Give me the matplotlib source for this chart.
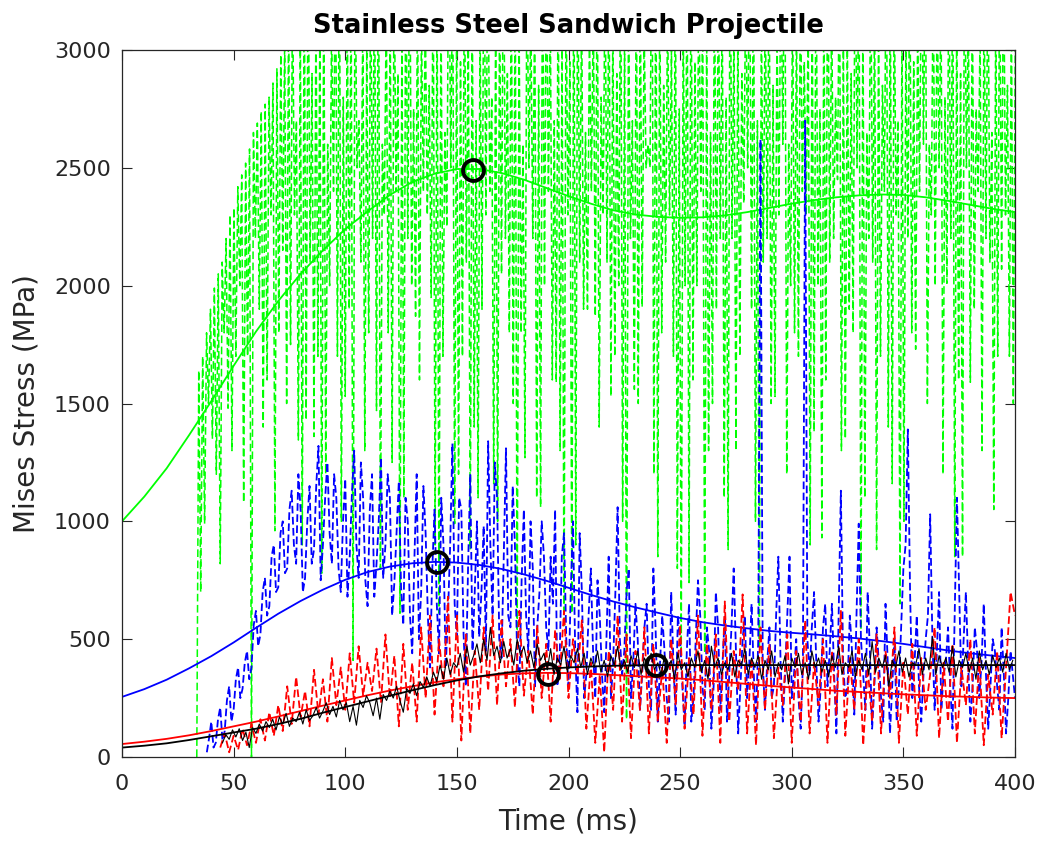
import numpy as np
import matplotlib
matplotlib.use("Agg")
import matplotlib.pyplot as plt

plt.rcParams['font.family'] = ['DejaVu Sans']
plt.rcParams['lines.scale_dashes'] = False

# ---- smooth trend curves, sampled every 10 ms ----
t_fit = np.arange(0, 401, 10)
green_fit = [1000, 1105, 1225, 1365, 1510, 1660, 1805, 1935, 2050, 2150, 2240,
             2315, 2385, 2440, 2475, 2495, 2495, 2478, 2450, 2415, 2380, 2348,
             2320, 2302, 2292, 2288, 2290, 2298, 2312, 2330, 2348, 2363, 2375,
             2383, 2387, 2385, 2375, 2360, 2343, 2326, 2312]
blue_fit = [255, 288, 328, 376, 428, 486, 548, 608, 662, 710, 752, 785, 808,
            822, 828, 825, 815, 798, 775, 748, 718, 688, 660, 635, 612, 590,
            572, 558, 546, 535, 527, 520, 512, 503, 492, 480, 466, 452, 440,
            430, 420]
red_fit = [55, 65, 77, 92, 110, 130, 150, 172, 195, 218, 240, 262, 282, 300,
           317, 330, 341, 350, 355, 357, 356, 353, 348, 343, 338, 333, 326,
           318, 310, 302, 295, 288, 281, 276, 271, 266, 262, 258, 255, 252, 250]
black_fit = [40, 48, 58, 72, 88, 104, 120, 140, 162, 188, 212, 236, 260, 283,
             305, 325, 342, 355, 366, 374, 380, 384, 387, 389, 390, 390, 390,
             390, 390, 390, 390, 390, 390, 390, 390, 390, 390, 390, 390, 390, 390]

# ---- peak markers (time, stress) ----
peak_t = [157, 141, 191, 239]
peak_v = [2490, 828, 352, 390]

# ---- green measured signal: one 3.5 ms cycle = low_a, high_a, low_b, high_b ----
green_t0, green_dt = 33.5, 0.875
green_low_a = [0, 990, 1350, 820, 1480, 1700, 1080, 0, 1900, 1600,
               960, 2150, 1750, 1345, 1430, 1360, 780, 2000, 1700, 1530,
               410, 2100, 1800, 1470, 2300, 1250, 610, 2200, 1870, 2400,
               1950, 610, 2250, 990, 1700, 880, 1100, 2300, 1160, 2050,
               1800, 510, 1270, 2200, 1060, 2400, 1590, 550, 610, 2100,
               1900, 1870, 2300, 1530, 2000, 160, 1560, 1910, 2500, 850,
               2100, 1700, 450, 740, 2000, 440, 1500, 2200, 880, 1300,
               2350, 1900, 470, 2200, 1530, 2600, 2000, 1700, 2300, 1380,
               930, 2100, 2450, 1350, 1800, 540, 2200, 880, 2400, 1160,
               650, 2200, 1730, 2600, 2300, 2500, 2010, 850, 850, 1590,
               2400, 2200, 1050, 2070, 1700]
green_high_a = [1640, 1800, 1990, 2100, 2300, 2420, 2520, 2650, 2740, 2800,
                2920, 3050, 3300, 3150, 3500, 3200, 3400, 3100, 3600, 3250,
                3450, 3150, 3350, 3700, 3200, 3400, 3100, 3550, 3300, 3150,
                3450, 3250, 3600, 3100, 3400, 3300, 3150, 3500, 3200, 3650,
                3350, 3100, 3450, 3250, 3550, 3150, 3400, 3300, 3600, 3200,
                3100, 3450, 3350, 3150, 3500, 3250, 3400, 3100, 3600, 3300,
                3200, 3450, 3150, 3550, 3350, 3100, 3400, 3250, 3600, 3150,
                3300, 3500, 3200, 3400, 3100, 3650, 3250, 3350, 3150, 3500,
                3300, 3200, 3450, 3100, 3550, 3250, 3400, 3150, 3600, 3300,
                3200, 3450, 3100, 3500, 3350, 3250, 3400, 3150, 3600, 3300,
                3100, 3450, 3250, 3500, 3200]
green_low_b = [700, 1500, 1200, 1800, 1300, 2000, 1700, 2200, 1400, 2300,
               1800, 1500, 2300, 900, 2100, 1700, 1200, 2400, 1000, 1900,
               2500, 1300, 2200, 800, 1800, 2400, 1100, 2000, 1600, 2300,
               900, 1700, 2500, 1200, 2100, 1400, 1900, 2400, 1000, 2200,
               1500, 1800, 2500, 1100, 2000, 1600, 1300, 2300, 900, 1900,
               2400, 1400, 2100, 1700, 1000, 2200, 1500, 2500, 1200, 1800,
               2300, 800, 2000, 1600, 2400, 1300, 1900, 1100, 2200, 1700,
               2500, 1000, 2100, 1500, 2300, 1200, 1800, 2400, 900, 2000,
               1600, 2200, 1300, 1900, 2500, 1100, 2100, 1700, 1400, 2300,
               1000, 1800, 2400, 1500, 2000, 1200, 2200, 1600, 2500, 1900,
               1300, 2100, 1700, 2300, 1500]
green_high_b = [1700, 1900, 2050, 2200, 2330, 2470, 2580, 2690, 2770, 2860,
                2980, 3200, 2700, 3400, 2900, 3100, 2600, 3500, 2800, 3300,
                2700, 3000, 3400, 2600, 3200, 2900, 3500, 2750, 3100, 2850,
                3300, 2650, 3400, 2950, 3100, 2700, 3600, 2800, 3250, 2900,
                3350, 2600, 3150, 2850, 3450, 2700, 3050, 2950, 3500, 2650,
                3200, 2800, 3400, 2900, 3100, 2700, 3300, 2600, 3550, 2850,
                3000, 2750, 3450, 2950, 3200, 2650, 3350, 2800, 3100, 2900,
                3500, 2700, 3250, 2850, 3400, 2600, 3150, 2950, 3300, 2750,
                3600, 2800, 3050, 2900, 3450, 2650, 3200, 2850, 3350, 2700,
                3100, 2950, 3500, 2600, 3250, 2800, 3400, 2900, 3150, 2750,
                3300, 2650, 3450, 2850, 3050]

# ---- blue measured signal: even-ms samples from 38 ms, odd-ms samples from 39 ms ----
blue_t0 = 38
blue_even = [20, 150, 60, 210, 110, 300, 200, 380, 290, 450,
             380, 620, 520, 760, 640, 900, 720, 1000, 800, 1130,
             820, 1050, 760, 1150, 880, 1320, 900, 1250, 820, 1100,
             700, 1180, 850, 1300, 760, 1100, 640, 1200, 820, 1270,
             900, 1100, 740, 1170, 560, 1000, 440, 1200, 700, 950,
             380, 1050, 440, 900, 600, 1330, 510, 1050, 300, 1200,
             700, 510, 980, 1340, 600, 1100, 420, 1310, 550, 900,
             300, 1050, 450, 800, 550, 1000, 550, 850, 1050, 400,
             950, 300, 1000, 190, 700, 350, 800, 250, 600, 190,
             850, 400, 1060, 350, 700, 250, 650, 200, 550, 300,
             800, 150, 600, 250, 700, 180, 500, 130, 650, 250,
             750, 300, 550, 120, 700, 200, 600, 350, 800, 100,
             500, 250, 650, 150, 2620, 200, 550, 300, 850, 150,
             600, 250, 500, 120, 2700, 350, 700, 150, 550, 300,
             650, 100, 1130, 250, 600, 180, 990, 350, 700, 120,
             550, 250, 650, 100, 500, 300, 800, 1390, 250, 600,
             150, 500, 1030, 200, 700, 350, 550, 120, 1100, 300,
             700, 150, 550, 250, 650, 120, 500, 300, 550, 100,
             450, 250]
blue_odd = [80, 40, 160, 70, 240, 150, 330, 250, 400, 330,
            560, 470, 700, 600, 850, 700, 950, 780, 1050, 900,
            1200, 700, 1000, 820, 1150, 750, 1100, 950, 1200, 800,
            1000, 680, 1120, 900, 1250, 750, 1050, 680, 1000, 760,
            1200, 600, 950, 720, 1100, 600, 850, 500, 1150, 600,
            800, 650, 1100, 380, 900, 650, 1100, 520, 800, 450,
            1000, 700, 450, 900, 1250, 500, 850, 600, 1150, 420,
            750, 600, 1000, 300, 700, 850, 450, 650, 300, 850,
            500, 700, 450, 950, 250, 600, 450, 750, 350, 500,
            250, 700, 500, 450, 800, 400, 500, 350, 650, 200,
            550, 400, 450, 150, 400, 600, 300, 450, 150, 500,
            600, 200, 450, 300, 550, 400, 150, 550, 450, 300,
            600, 400, 350, 500, 400, 400, 250, 600, 400, 350,
            850, 350, 250, 400, 500, 550, 400, 300, 650, 450,
            350, 600, 400, 300, 450, 600, 500, 200, 450, 300,
            400, 150, 400, 300, 150, 550, 900, 700, 400, 300,
            350, 600, 500, 450, 200, 400, 300, 600, 700, 500,
            400, 300, 450, 400, 350, 300, 450, 200, 350, 250,
            350]

# ---- red measured signal, every 2 ms from 44 ms ----
red_t0, red_dt = 44, 2
red_sig = [40, 100, 20, 90, 30, 120, 50, 140, 60, 160,
           70, 190, 90, 220, 110, 300, 140, 340, 170, 280,
           130, 370, 180, 330, 150, 420, 220, 380, 200, 440,
           230, 470, 260, 400, 280, 460, 230, 520, 250, 430,
           130, 480, 200, 400, 150, 550, 250, 600, 180, 500,
           300, 680, 150, 600, 70, 520, 100, 450, 200, 550,
           280, 600, 220, 580, 300, 500, 210, 620, 260, 450,
           180, 560, 250, 480, 150, 540, 330, 620, 250, 500,
           350, 580, 120, 400, 60, 350, 20, 450, 200, 600,
           150, 520, 80, 450, 200, 550, 100, 480, 150, 380,
           60, 500, 220, 560, 120, 420, 180, 600, 90, 480,
           200, 520, 60, 660, 150, 450, 280, 690, 100, 420,
           50, 550, 200, 480, 80, 380, 220, 520, 60, 450,
           150, 580, 100, 400, 220, 500, 60, 450, 180, 620,
           90, 420, 200, 500, 50, 380, 150, 520, 100, 450,
           250, 550, 60, 400, 180, 480, 90, 420, 200, 350,
           550, 80, 400, 150, 480, 60, 380, 220, 500, 100,
           420, 50, 350, 180, 450, 80, 380, 700, 600]

# ---- black measured signal, every 1.5 ms from 45 ms ----
black_t0, black_dt = 45, 1.5
black_sig = [60, 95, 75, 115, 85, 120, 70, 105, 40, 125, 100,
             140, 110, 150, 125, 160, 115, 170, 140, 185, 130,
             165, 150, 190, 140, 200, 155, 175, 210, 165, 195,
             230, 180, 215, 170, 240, 200, 230, 150, 215, 135,
             240, 210, 260, 230, 175, 250, 160, 265, 240, 280,
             250, 300, 240, 190, 290, 270, 310, 260, 320, 295,
             340, 300, 360, 320, 390, 330, 420, 350, 400, 380,
             440, 360, 470, 390, 430, 480, 400, 500, 410, 550,
             430, 470, 400, 490, 420, 460, 390, 500, 430, 470,
             400, 450, 380, 480, 410, 440, 370, 460, 350, 420,
             390, 470, 360, 430, 400, 460, 380, 440, 350, 420,
             380, 450, 360, 410, 340, 430, 390, 470, 370, 410,
             360, 430, 380, 450, 350, 420, 390, 440, 370, 400,
             350, 430, 380, 410, 330, 440, 370, 400, 340, 420,
             380, 450, 360, 410, 330, 470, 380, 420, 350, 400,
             370, 440, 340, 410, 390, 460, 350, 420, 380, 430,
             330, 410, 370, 450, 340, 400, 370, 430, 310, 420,
             380, 440, 350, 400, 330, 450, 380, 420, 360, 410,
             340, 430, 380, 470, 350, 400, 380, 450, 340, 410,
             370, 440, 350, 490, 360, 420, 380, 430, 300, 410,
             380, 450, 360, 420, 340, 400, 390, 460, 350, 420,
             370, 510, 350, 430, 380, 420, 360, 470, 340, 410,
             380, 440, 360, 420, 330, 450, 370, 410, 350, 430,
             380, 420, 360, 440, 370, 410]

# ---- build the series ----
n_cyc = len(green_low_a)
green_v = np.empty(4 * n_cyc)
green_v[0::4] = green_low_a
green_v[1::4] = green_high_a
green_v[2::4] = green_low_b
green_v[3::4] = green_high_b
green_t = green_t0 + green_dt * np.arange(green_v.size)

blue_v = np.empty(len(blue_even) + len(blue_odd))
blue_v[0::2] = blue_even
blue_v[1::2] = blue_odd
blue_t = blue_t0 + np.arange(blue_v.size)

red_t = red_t0 + red_dt * np.arange(len(red_sig))
black_t = black_t0 + black_dt * np.arange(len(black_sig))

W, H = 1041, 849
fig = plt.figure(figsize=(W / 100, H / 100), dpi=100)
ax = fig.add_axes([122 / W, 1 - 757 / H, (1015 - 122) / W, (757 - 50) / H])

dash = (5.5, 2.5)
GREEN, BLUE, RED = (0, 1, 0), (0, 0, 1), (1, 0, 0)

ax.plot(green_t, green_v, color=GREEN, lw=1.1, dashes=dash)
ax.plot(t_fit, green_fit, color=GREEN, lw=1.3)
ax.plot(blue_t, blue_v, color=BLUE, lw=1.3, dashes=dash)
ax.plot(t_fit, blue_fit, color=BLUE, lw=1.3)
ax.plot(red_t, red_sig, color=RED, lw=1.3, dashes=dash)
ax.plot(t_fit, red_fit, color=RED, lw=1.3)
ax.plot(black_t, black_sig, color='k', lw=0.8)
ax.plot(t_fit, black_fit, color='k', lw=1.3)
ax.plot(peak_t, peak_v, 'o', ms=15, mfc='none', mec='k', mew=2.8, zorder=5)

ax.set_xlim(0, 400)
ax.set_ylim(0, 3000)
ax.set_xticks(np.arange(0, 401, 50))
ax.set_yticks(np.arange(0, 3001, 500))

axis_col = '#262626'
ax.tick_params(direction='in', top=True, right=True, length=7, width=0.8,
               colors=axis_col, labelsize=16)
ax.tick_params(axis='x', pad=12)
ax.tick_params(axis='y', pad=8)
for s in ax.spines.values():
    s.set_color(axis_col)
    s.set_linewidth(0.9)

ax.set_xlabel('Time (ms)', fontsize=20, color=axis_col, labelpad=10)
ax.set_ylabel('Mises Stress (MPa)', fontsize=20, color=axis_col, labelpad=10)
ax.set_title('Stainless Steel Sandwich Projectile', fontsize=18.5,
             fontweight='bold', color='k', pad=12)

fig.savefig('out.png', dpi=100)
